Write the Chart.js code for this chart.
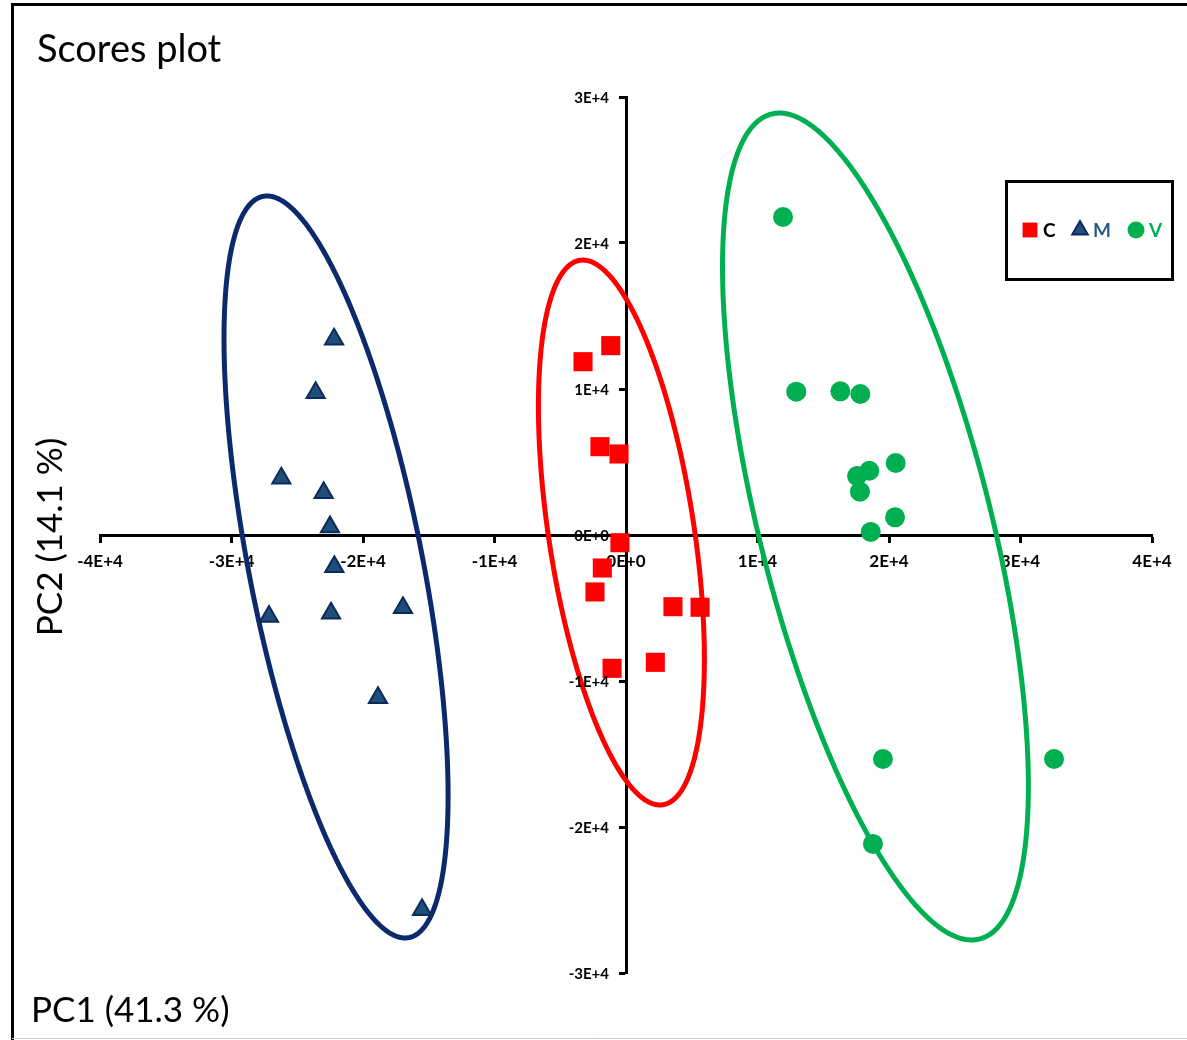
<!DOCTYPE html>
<html>
<head>
<meta charset="utf-8">
<title>Scores plot</title>
<script src="https://cdn.jsdelivr.net/npm/chart.js@4/dist/chart.umd.min.js"></script>
<style>
  html, body { margin: 0; padding: 0; background: #ffffff; }
  #wrap { width: 1187px; height: 1040px; position: relative; }
</style>
</head>
<body>
<div id="wrap"><canvas id="scores" width="1187" height="1040"></canvas></div>
<script>
// PCA scores, group C
const cPC1 = [-3270, -1160, -1980, -530, -460, -1800, -2360, 3570, 5630, 2230, -1060];
const cPC2 = [11870, 12970, 6050, 5550, -530, -2260, -3900, -4910, -4950, -8720, -9130];

// PCA scores, group M
const mPC1 = [-22200, -23600, -26210, -22990, -22510, -22180, -27150, -22430, -16960, -18860, -15510];
const mPC2 = [13400, 9750, 3880, 2900, 550, -2180, -5590, -5360, -4990, -11140, -25660];

// PCA scores, group V
const vPC1 = [11940, 12950, 16300, 17820, 17570, 18500, 20510, 17790, 18610, 20460, 19540, 32550, 18780];
const vPC2 = [21780, 9820, 9840, 9660, 4040, 4400, 4930, 2970, 210, 1210, -15340, -15340, -21160];

// Confidence ellipses per group (order C, M, V): centre, half-extent on each axis, correlation
const groupNames  = ['C', 'M', 'V'];
const ellipseCX   = [-350, -22050, 18970];
const ellipseCY   = [170, -2190, 580];
const ellipseRX   = [6310, 8520, 11630];
const ellipseRY   = [18660, 25410, 28320];
const ellipseRho  = [-0.464, -0.616, -0.628];

// Axis ticks
const pc1Ticks = [-40000, -30000, -20000, -10000, 0, 10000, 20000, 30000, 40000];
const pc2Ticks = [-30000, -20000, -10000, 0, 10000, 20000, 30000];

const pairUp = (xs, ys) => xs.map((x, i) => ({ x: x, y: ys[i] }));

function ellipseOutline(k) {
  const pts = [];
  const n = 360;
  const s = Math.sqrt(1 - ellipseRho[k] * ellipseRho[k]);
  for (let i = 0; i <= n; i++) {
    const t = (i / n) * Math.PI * 2;
    pts.push({
      x: ellipseCX[k] + ellipseRX[k] * Math.cos(t),
      y: ellipseCY[k] + ellipseRY[k] * (ellipseRho[k] * Math.cos(t) + s * Math.sin(t))
    });
  }
  return pts;
}

const RED = '#ff0000';
const NAVY = '#0b2a6b';
const TRI_FILL = '#1f4e79';
const GREEN = '#00b050';
const TICK_FONT = 'Lato, "Open Sans", sans-serif';

function sciLabel(v) {
  if (v === 0) return '0E+0';
  const e = Math.floor(Math.log10(Math.abs(v)));
  const m = v / Math.pow(10, e);
  return m + 'E+' + e;
}

// Page furniture: frame, titles, PC2 tick labels and the boxed legend
const furniture = {
  id: 'furniture',
  beforeDraw(chart) {
    const ctx = chart.ctx;
    ctx.save();
    ctx.fillStyle = '#ffffff';
    ctx.fillRect(0, 0, chart.width, chart.height);
    ctx.restore();
  },
  afterDraw(chart) {
    const ctx = chart.ctx;
    ctx.save();
    // frame
    ctx.strokeStyle = '#000000';
    ctx.lineWidth = 3;
    ctx.beginPath();
    ctx.moveTo(12.5, chart.height);
    ctx.lineTo(12.5, 4.5);
    ctx.lineTo(chart.width, 4.5);
    ctx.stroke();
    ctx.strokeStyle = '#d0d0d0';
    ctx.lineWidth = 1;
    ctx.beginPath();
    ctx.moveTo(12, 1038.5);
    ctx.lineTo(chart.width, 1038.5);
    ctx.stroke();

    // PC2 tick labels, set off to the left of the vertical axis
    const xs = chart.scales.x, ys = chart.scales.y;
    const axisX = xs.getPixelForValue(0);
    ctx.fillStyle = '#000000';
    ctx.font = 'bold 15px ' + TICK_FONT;
    ctx.textAlign = 'right';
    ctx.textBaseline = 'middle';
    ys.ticks.forEach(t => {
      ctx.fillText(sciLabel(t.value), axisX - 17, ys.getPixelForValue(t.value) + 1);
    });

    // titles
    ctx.textBaseline = 'alphabetic';
    ctx.textAlign = 'left';
    ctx.font = '38px Lato, "Open Sans", sans-serif';
    ctx.fillText('Scores plot', 37, 62);
    ctx.font = '35px Lato, "Open Sans", sans-serif';
    ctx.fillText('PC1 (41.3 %)', 31, 1022);
    ctx.save();
    ctx.translate(62, 537);
    ctx.rotate(-Math.PI / 2);
    ctx.textAlign = 'center';
    ctx.fillText('PC2 (14.1 %)', 0, 0);
    ctx.restore();

    // legend box
    ctx.strokeStyle = '#000000';
    ctx.lineWidth = 3;
    ctx.strokeRect(1006.5, 181.5, 166, 98);
    const itemX = [1030, 1080, 1136];
    const textColors = ['#000000', '#2a5a8a', GREEN];
    const ly = 230;
    ctx.font = 'bold 19px ' + TICK_FONT;
    ctx.textBaseline = 'middle';
    ctx.textAlign = 'left';
    const pointSets = chart.data.datasets.filter(d => d.isGroup);
    pointSets.forEach((ds, i) => {
      const style = {
        pointStyle: ds.pointStyle,
        radius: ds.legendRadius,
        borderWidth: ds.borderWidth,
        rotation: 0
      };
      ctx.fillStyle = ds.backgroundColor;
      ctx.strokeStyle = ds.borderColor;
      ctx.lineWidth = ds.borderWidth;
      Chart.helpers.drawPoint(ctx, style, itemX[i], ly);
      ctx.fillStyle = textColors[i];
      ctx.fillText(ds.label, itemX[i] + 13, ly + 1);
    });
    ctx.restore();
  }
};

const ellipseSets = groupNames.map((g, k) => ({
  label: g + ' ellipse',
  data: ellipseOutline(k),
  showLine: true,
  fill: false,
  borderColor: [RED, NAVY, GREEN][k],
  borderWidth: 5,
  pointRadius: 0,
  pointHoverRadius: 0,
  tension: 0.0001,
  order: 2
}));

const groupSets = [
  {
    label: 'C', isGroup: true,
    data: pairUp(cPC1, cPC2),
    pointStyle: 'rect', pointRadius: 13.5, legendRadius: 10.5,
    backgroundColor: RED, borderColor: RED, borderWidth: 0,
    order: 1
  },
  {
    label: 'M', isGroup: true,
    data: pairUp(mPC1, mPC2),
    pointStyle: 'triangle', pointRadius: 10.5, legendRadius: 9,
    backgroundColor: TRI_FILL, borderColor: '#0c2a5c', borderWidth: 2,
    order: 1
  },
  {
    label: 'V', isGroup: true,
    data: pairUp(vPC1, vPC2),
    pointStyle: 'circle', pointRadius: 10, legendRadius: 8.5,
    backgroundColor: GREEN, borderColor: GREEN, borderWidth: 0,
    order: 1
  }
];

new Chart(document.getElementById('scores'), {
  type: 'scatter',
  data: { datasets: [...groupSets, ...ellipseSets] },
  options: {
    responsive: false,
    animation: false,
    devicePixelRatio: 1,
    layout: { padding: { left: 100, right: 35, top: 97, bottom: 67 } },
    plugins: {
      legend: { display: false },
      tooltip: { enabled: false },
      title: { display: false }
    },
    scales: {
      x: {
        type: 'linear',
        position: { y: 0 },
        min: pc1Ticks[0],
        max: pc1Ticks[pc1Ticks.length - 1],
        afterBuildTicks: (axis) => { axis.ticks = pc1Ticks.map(v => ({ value: v })); },
        grid: { drawOnChartArea: false, drawTicks: true, tickLength: 6, tickWidth: 3, tickColor: '#000000' },
        border: { display: true, color: '#000000', width: 3 },
        ticks: {
          autoSkip: false,
          maxRotation: 0,
          padding: 10,
          color: '#000000',
          font: { family: TICK_FONT, size: 17, weight: 'bold' },
          callback: (v) => sciLabel(v)
        }
      },
      y: {
        type: 'linear',
        position: { x: 0 },
        min: pc2Ticks[0],
        max: pc2Ticks[pc2Ticks.length - 1],
        afterBuildTicks: (axis) => { axis.ticks = pc2Ticks.map(v => ({ value: v })); },
        grid: { drawOnChartArea: false, drawTicks: true, tickLength: 6, tickWidth: 3, tickColor: '#000000' },
        border: { display: true, color: '#000000', width: 3 },
        ticks: { display: false }
      }
    }
  },
  plugins: [furniture]
});
</script>
</body>
</html>
